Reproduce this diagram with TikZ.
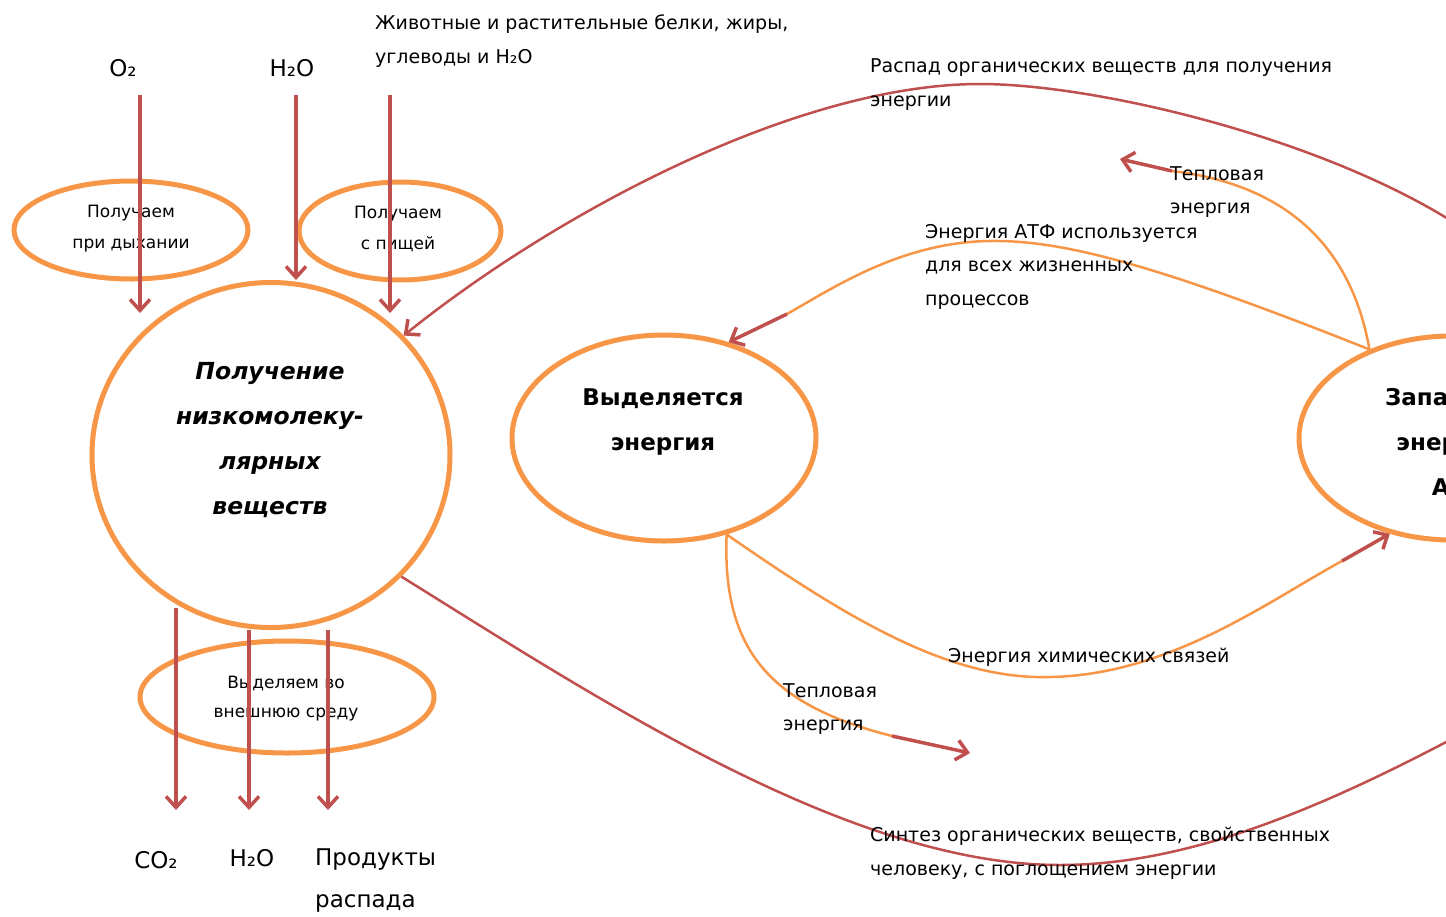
\documentclass[tikz,border=0pt]{standalone}
\usepackage{fontspec}
\setmainfont{DejaVu Sans}
\usetikzlibrary{shapes.geometric,arrows.meta}
\definecolor{rd}{HTML}{C0504D}
\definecolor{og}{HTML}{F79646}
\tikzset{
  oval/.style={ellipse, draw=og, line width=5pt, inner sep=0pt},
  vred/.style={draw=rd, line width=3.5pt, -{Straight Barb[length=11pt,width=20pt]}},
  cred/.style={draw=rd, line width=2.5pt},
  cor/.style={draw=og, line width=2.5pt},
  tipred/.style={draw=rd, line width=3.5pt, -{Straight Barb[length=11pt,width=20pt]}},
  lbl/.style={font=\fontsize{19}{33.5}\selectfont, align=left, inner sep=0pt, anchor=west},
  inlbl/.style={font=\fontsize{17}{31}\selectfont, align=center, inner sep=0pt},
  big/.style={font=\fontsize{23}{45}\selectfont\bfseries, align=center, inner sep=0pt},
  chem/.style={font=\fontsize{23}{42}\selectfont, inner sep=0pt},
}
\begin{document}
\begin{tikzpicture}[x=1pt,y=-1pt]
\path[use as bounding box] (0,0) rectangle (1446,916);
\clip (0,0) rectangle (1446,916);

% ellipses
\node[oval, minimum width=358, minimum height=345] (B) at (271,455) {};
\node[oval, minimum width=234, minimum height=98] (E1) at (131,230) {};
\node[oval, minimum width=202, minimum height=98] (E2) at (400,231) {};
\node[oval, minimum width=294, minimum height=112] (E3) at (287,697) {};
\node[oval, minimum width=304, minimum height=206] (V) at (664,438) {};
\node[oval, minimum width=306, minimum height=204] (R) at (1452,438) {};

% texts inside
\node[inlbl] (t1) at (131,228.5) {Получаем\\при дыхании};
\node[inlbl] (t2) at (398,228.5) {Получаем\\с пищей};
\node[inlbl, font=\fontsize{17}{29}\selectfont] (t3) at (286,698.5) {Выделяем во\\внешнюю среду};
\node[big, font=\fontsize{23.5}{45}\selectfont\bfseries\itshape] (tb) at (270,440) {Получение\\низкомолеку-\\лярных\\веществ};
\node[big] (tv) at (663,422.5) {Выделяется\\энергия};
\node[big] (tr) at (1460,442) {Запасается\\энергия в\\АТФ};

% top labels
\node[chem] (o2) at (123,68) {O₂};
\node[chem] (h2o) at (292,68) {H₂O};
\node[lbl] (food) at (375,41) {Животные и растительные белки, жиры,\\углеводы и H₂O};

% bottom labels
\node[chem] (co2) at (156,860) {CO₂};
\node[chem] (h2ob) at (252,858) {H₂O};
\node[chem, align=left, anchor=west, font=\fontsize{23}{42}\selectfont] (prod) at (315,880) {Продукты\\распада};

% vertical arrows
\coordinate (a1s) at (140,95);  \coordinate (a1e) at (140,313);
\coordinate (a2s) at (296,95);
\coordinate (a3s) at (390,95);  \coordinate (a3e) at (390,313);
\draw[vred] (a1s) -- (a1e);
\draw[vred] (a2s) -- (a2s |- B.north);
\draw[vred] (a3s) -- (a3e);

\coordinate (b1s) at (176,608); \coordinate (b1e) at (176,810);
\coordinate (b2s) at (249,630); \coordinate (b2e) at (249,810);
\coordinate (b3s) at (328,630); \coordinate (b3e) at (328,810);
\draw[vred] (b1s) -- (b1e);
\draw[vred] (b2s) -- (b2e);
\draw[vred] (b3s) -- (b3e);

% big red curves
\draw[cred, -{Straight Barb[length=11pt,width=20pt,line width=3.5pt]}] (R.30) .. controls (1560,200) and (1150,84) .. (980,84)
   .. controls (800,84) and (560,210) .. (B.42);
\coordinate (bend) at (1650,630);
\draw[cred] (B.-43) .. controls (600,700) and (850,865) .. (1060,865)
   .. controls (1250,865) and (1450,740) .. (bend);

% orange curves
\coordinate (c1) at (787,314);
\draw[cor] (R.133) .. controls (1150,262) and (1060,240) .. (990,241)
   .. controls (900,242) and (830,290) .. (c1);
\draw[tipred] (c1) -- (V.56);

\coordinate (c2) at (1172,171);
\coordinate (c2t) at (1120,159);
\draw[cor] (R.133) .. controls (1352,250) and (1290,185) .. (c2);
\draw[tipred] (c2) -- (c2t);

\coordinate (c3) at (892,736);
\coordinate (c3t) at (970,753);
\draw[cor] (V.-57) .. controls (722,650) and (770,705) .. (c3);
\draw[tipred] (c3) -- (c3t);

\coordinate (c4) at (1342,561);
\draw[cor] (V.-57) .. controls (850,620) and (950,680) .. (1050,677)
   .. controls (1170,675) and (1270,600) .. (c4);
\draw[tipred] (c4) -- (R.-123);

% connector labels
\node[lbl] (raspad) at (870,84.5) {Распад органических веществ для получения\\энергии};
\node[lbl] (teplo1) at (1170,192) {Тепловая\\энергия};
\node[lbl] (atf) at (925,266.5) {Энергия АТФ используется\\для всех жизненных\\процессов};
\node[lbl] (chemb) at (948,657) {Энергия химических связей};
\node[lbl] (teplo2) at (783,709) {Тепловая\\энергия};
\node[lbl] (sint) at (870,853) {Синтез органических веществ, свойственных\\человеку, с поглощением энергии};
\end{tikzpicture}
\end{document}
